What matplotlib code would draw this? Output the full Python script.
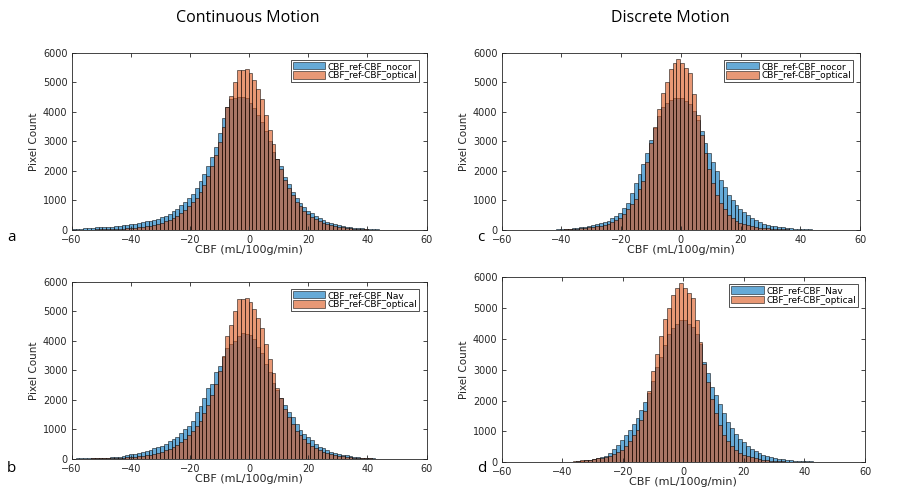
import numpy as np
import matplotlib
matplotlib.use("Agg")
import matplotlib.pyplot as plt

# histogram counts, 92 bins of width 1.3 starting at -60
bin_start = -60.0
bin_width = 1.3

cont_nocor = [40, 45, 50, 60, 65, 75, 85, 95, 100, 105,
              115, 125, 140, 155, 175, 195, 215, 240, 265, 290,
              310, 345, 385, 430, 490, 555, 630, 720, 830, 950,
              1080, 1230, 1420, 1650, 1900, 2150, 2480, 2820, 3300, 3800,
              4150, 4450, 4480, 4500, 4510, 4470, 4300, 4120, 3900, 3650,
              3350, 3000, 2650, 2400, 2150, 1800, 1550, 1300, 1100, 930,
              790, 660, 560, 470, 400, 335, 285, 240, 200, 170,
              140, 118, 98, 80, 65, 52, 42, 33, 26, 20,
              15, 11, 8, 6, 5, 4, 3, 2, 2, 1, 1, 0]

cont_nav = [15, 18, 20, 22, 25, 28, 32, 36, 40, 45,
            60, 68, 80, 100, 130, 155, 185, 210, 240, 270,
            320, 365, 400, 450, 520, 600, 680, 760, 880, 1000,
            1120, 1300, 1600, 1800, 2050, 2400, 2550, 2950, 3150, 3450,
            3750, 3880, 4000, 4150, 4250, 4240, 4190, 4050, 3800, 3600,
            3200, 2950, 2580, 2350, 2080, 1820, 1600, 1420, 1200, 980,
            850, 740, 640, 520, 420, 360, 300, 250, 210, 180,
            150, 125, 100, 80, 62, 48, 36, 28, 22, 16,
            12, 9, 7, 5, 4, 3, 2, 2, 1, 1, 1, 0]

cont_optical = [10, 10, 12, 14, 15, 17, 20, 22, 25, 28,
                32, 36, 42, 48, 56, 65, 76, 90, 105, 125,
                150, 175, 205, 240, 290, 345, 410, 490, 580, 680,
                800, 940, 1100, 1300, 1540, 1820, 2150, 2550, 2980, 3500,
                4150, 4550, 5000, 5400, 5420, 5440, 5300, 5080, 4780, 4420,
                3900, 3400, 2900, 2400, 2050, 1700, 1420, 1180, 960, 800,
                660, 540, 440, 360, 295, 240, 195, 160, 130, 105,
                85, 70, 56, 45, 36, 28, 22, 17, 13, 10,
                8, 6, 5, 4, 3, 2, 2, 1, 1, 1, 0, 0]

disc_nocor = [0, 0, 0, 0, 0, 0, 0, 0, 2, 3,
              5, 7, 10, 14, 20, 28, 38, 48, 60, 75,
              95, 115, 140, 165, 195, 230, 270, 320, 400, 470,
              560, 750, 930, 1250, 1580, 1880, 2250, 2620, 3050, 3450,
              3850, 4150, 4300, 4400, 4470, 4480, 4470, 4360, 4250, 4030,
              3740, 3350, 2950, 2620, 2300, 2000, 1700, 1450, 1200, 1000,
              850, 720, 600, 500, 400, 330, 270, 220, 180, 150,
              125, 100, 85, 70, 58, 48, 40, 32, 26, 20,
              16, 12, 9, 7, 5, 4, 3, 2, 1, 1, 0, 0]

disc_nav = [0, 0, 0, 0, 0, 0, 0, 2, 3, 4,
            5, 6, 8, 10, 12, 14, 17, 20, 25, 32,
            50, 65, 85, 105, 130, 160, 220, 300, 420, 560,
            720, 870, 1040, 1230, 1430, 1680, 1950, 2250, 2650, 3100,
            3430, 3800, 4150, 4350, 4500, 4600, 4620, 4500, 4400, 4150,
            3850, 3250, 2900, 2450, 2180, 1900, 1600, 1300, 1100, 920,
            760, 650, 540, 440, 360, 300, 250, 200, 160, 130,
            110, 95, 80, 68, 58, 50, 42, 35, 28, 22,
            17, 13, 10, 7, 5, 4, 3, 2, 1, 1, 0, 0]

disc_optical = [0, 0, 0, 0, 0, 0, 0, 2, 3, 4,
                5, 6, 8, 10, 12, 15, 18, 22, 27, 32,
                60, 72, 88, 105, 125, 150, 178, 215, 265, 330,
                400, 530, 700, 870, 1040, 1380, 1660, 2300, 2950, 3500,
                4080, 4650, 5000, 5440, 5640, 5800, 5640, 5490, 5320, 4600,
                3900, 3200, 2600, 2050, 1600, 1200, 900, 700, 520, 400,
                310, 250, 200, 160, 125, 100, 80, 65, 52, 42,
                34, 28, 22, 18, 14, 11, 9, 7, 5, 4,
                3, 2, 2, 1, 1, 1, 0, 0, 0, 0, 0, 0]

panels = [
    ("a", cont_nocor, cont_optical, "CBF_ref-CBF_nocor", [0.0798, 0.5277, 0.3953, 0.364]),
    ("c", disc_nocor, disc_optical, "CBF_ref-CBF_nocor", [0.5587, 0.5277, 0.3990, 0.364]),
    ("b", cont_nav, cont_optical, "CBF_ref-CBF_Nav", [0.0798, 0.0575, 0.3953, 0.364]),
    ("d", disc_nav, disc_optical, "CBF_ref-CBF_Nav", [0.5587, 0.0507, 0.4046, 0.380]),
]

blue = "#0072BD"
orange = "#D95319"

fig = plt.figure(figsize=(8.98, 4.87), dpi=100)
fig.patch.set_facecolor("white")

for letter, first, second, label1, pos in panels:
    ax = fig.add_axes(pos)
    lefts = bin_start + bin_width * np.arange(len(first))
    ax.bar(lefts, first, width=bin_width, align="edge", color=blue, alpha=0.6,
           edgecolor="black", linewidth=0.6, label=label1)
    ax.bar(lefts, second, width=bin_width, align="edge", color=orange, alpha=0.6,
           edgecolor="black", linewidth=0.6, label="CBF_ref-CBF_optical")
    ax.set_xlim(-60, 60)
    ax.set_ylim(0, 6000)
    ax.set_xticks(np.arange(-60, 61, 20))
    ax.set_yticks(np.arange(0, 6001, 1000))
    ax.tick_params(direction="in", top=True, right=True, labelsize=7, length=3,
                   width=0.6, colors="#262626")
    ax.tick_params(axis="x", pad=3.5)
    ax.tick_params(axis="y", pad=3)
    for s in ax.spines.values():
        s.set_linewidth(0.6)
        s.set_color("#262626")
    ax.set_xlabel("CBF (mL/100g/min)", fontsize=8, labelpad=0, color="#262626")
    ax.set_ylabel("Pixel Count", fontsize=7.5, labelpad=3, color="#262626")
    leg = ax.legend(loc="upper right", fontsize=6.5, frameon=True, fancybox=False,
                    edgecolor="black", handlelength=3.6, handleheight=0.9,
                    borderpad=0.2, labelspacing=0.05, handletextpad=0.3,
                    borderaxespad=0.8)
    leg.get_frame().set_linewidth(0.6)
    x0 = 0.008 if letter in "ab" else 0.531
    y0 = 0.505 if letter in "ac" else 0.03
    fig.text(x0, y0, letter, fontsize=11, family="Open Sans")

fig.text(0.276, 0.955, "Continuous Motion", fontsize=11.5, family="Open Sans", ha="center")
fig.text(0.746, 0.955, "Discrete Motion", fontsize=11.5, family="Open Sans", ha="center")

fig.savefig("out.png", dpi=100)
